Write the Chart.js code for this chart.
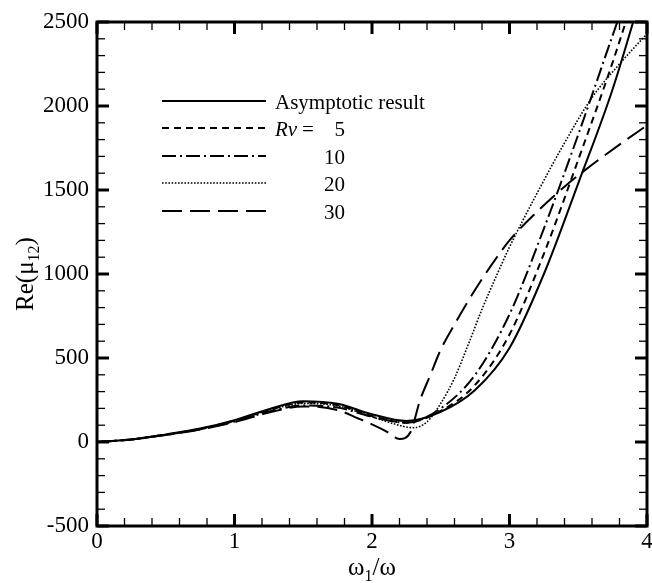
<!DOCTYPE html>
<html lang="en">
<head>
  <meta charset="UTF-8" />
  <title>Re(mu12) vs omega1/omega</title>
  <script src="https://cdn.jsdelivr.net/npm/chart.js"></script>
  <style>
    * { margin: 0; padding: 0; box-sizing: border-box; }
    body { background: #fff; width: 652px; height: 583px; overflow: hidden; }
    #chart { display: block; }
  </style>
</head>
<body>
  <canvas id="chart" width="652" height="583"></canvas>

  <script>
    // x positions (omega1/omega) and Re(mu12) values
    const xAsym = [0, 0.25, 0.5, 0.75, 1.0, 1.25, 1.5, 1.75, 2.0, 2.25, 2.5, 2.75, 3.0, 3.25, 3.5, 3.75, 4.0];
    const yAsym = [0, 15, 45, 80, 130, 195, 243, 228, 165, 125, 180, 310, 560, 1000, 1540, 2100, 2780];

    const xRv5 = [0, 0.25, 0.5, 0.75, 1.0, 1.25, 1.5, 1.75, 2.0, 2.25, 2.5, 2.75, 3.0, 3.25, 3.5, 3.75, 4.0];
    const yRv5 = [0, 15, 44, 78, 127, 190, 235, 220, 155, 115, 185, 340, 640, 1120, 1680, 2260, 2900];

    const xRv10 = [0, 0.25, 0.5, 0.75, 1.0, 1.25, 1.5, 1.75, 2.0, 2.25, 2.5, 2.75, 3.0, 3.25, 3.5, 3.75, 4.0];
    const yRv10 = [0, 15, 43, 76, 122, 180, 218, 205, 150, 115, 200, 400, 760, 1270, 1830, 2420, 3000];

    const xRv20 = [0, 0.25, 0.5, 0.75, 1.0, 1.25, 1.5, 1.75, 2.0, 2.15, 2.3, 2.4, 2.5, 2.6, 2.7, 2.8, 2.9, 3.0, 3.2, 3.4, 3.6, 3.8, 4.0];
    const yRv20 = [0, 15, 44, 78, 125, 188, 230, 215, 150, 110, 85, 120, 230, 380, 580, 790, 980, 1160, 1480, 1780, 2050, 2250, 2430];

    const xRv30 = [0, 0.25, 0.5, 0.75, 1.0, 1.25, 1.5, 1.75, 1.9, 2.0, 2.1, 2.2, 2.28, 2.35, 2.42, 2.5, 2.6, 2.7, 2.8, 2.9, 3.0, 3.2, 3.4, 3.6, 3.8, 4.0];
    const yRv30 = [0, 15, 42, 75, 118, 175, 212, 190, 140, 105, 65, 18, 60, 250, 390, 550, 700, 840, 970, 1090, 1200, 1370, 1520, 1650, 1770, 1885];

    const xTicks = [0, 1, 2, 3, 4];
    const yTicks = [-500, 0, 500, 1000, 1500, 2000, 2500];

    const legendLabels = ['Asymptotic result', '5', '10', '20', '30'];

    const serif = "'Liberation Serif', 'DejaVu Serif', serif";

    function pts(xs, ys) {
      return xs.map((x, i) => ({ x: x, y: ys[i] }));
    }

    const series = [
      { data: pts(xAsym, yAsym), dash: [], width: 2 },
      { data: pts(xRv5, yRv5), dash: [7, 5], width: 2 },
      { data: pts(xRv10, yRv10), dash: [14, 4, 2, 4], width: 2 },
      { data: pts(xRv20, yRv20), dash: [1.6, 1.6], width: 1.6 },
      { data: pts(xRv30, yRv30), dash: [20, 8], width: 2 }
    ];

    // axis frame, inward ticks on all four sides, legend and axis titles
    const decorations = {
      id: 'decorations',
      afterDraw(chart) {
        const ctx = chart.ctx;
        const a = chart.chartArea;
        const xs = chart.scales.x;
        const ys = chart.scales.y;
        ctx.save();
        ctx.strokeStyle = '#000';
        ctx.fillStyle = '#000';

        // ticks
        function tick(x1, y1, x2, y2, w) {
          ctx.lineWidth = w;
          ctx.beginPath();
          ctx.moveTo(x1, y1);
          ctx.lineTo(x2, y2);
          ctx.stroke();
        }
        for (let i = 0; i <= 20; i++) {
          const v = i * 0.2;
          const px = xs.getPixelForValue(v);
          const major = i % 5 === 0;
          const len = major ? 12 : 8;
          const w = major ? 3 : 1.3;
          tick(px, a.bottom, px, a.bottom - len, w);
          tick(px, a.top, px, a.top + len, w);
        }
        for (let i = 0; i <= 30; i++) {
          const v = -500 + i * 100;
          const py = ys.getPixelForValue(v);
          const major = i % 5 === 0;
          const len = major ? 12 : 8;
          const w = major ? 3 : 1.3;
          tick(a.left, py, a.left + len, py, w);
          tick(a.right, py, a.right - len, py, w);
        }

        // frame
        ctx.lineWidth = 3;
        ctx.strokeRect(a.left, a.top, a.right - a.left, a.bottom - a.top);

        // legend
        const rowY = [101, 128, 156, 183, 211];
        chart.data.datasets.forEach((ds, i) => {
          ctx.lineWidth = ds.borderWidth;
          ctx.setLineDash(ds.borderDash || []);
          ctx.beginPath();
          ctx.moveTo(162, rowY[i]);
          ctx.lineTo(266, rowY[i]);
          ctx.stroke();
        });
        ctx.setLineDash([]);
        ctx.font = '21px ' + serif;
        ctx.textBaseline = 'alphabetic';
        ctx.textAlign = 'left';
        ctx.fillText(legendLabels[0], 275, rowY[0] + 8);
        ctx.font = 'italic 21px ' + serif;
        ctx.fillText('Rv', 275, rowY[1] + 8);
        ctx.font = '21px ' + serif;
        ctx.fillText('=', 302, rowY[1] + 8);
        ctx.textAlign = 'right';
        for (let i = 1; i < legendLabels.length; i++) {
          ctx.fillText(legendLabels[i], 345, rowY[i] + 8);
        }

        // x title: omega_1 / omega
        const cx = (a.left + a.right) / 2;
        const big = '25px ' + serif;
        const small = '16px ' + serif;
        ctx.textAlign = 'left';
        ctx.font = big;
        const wOm = ctx.measureText('\u03c9').width;
        const wSl = ctx.measureText('/\u03c9').width;
        ctx.font = small;
        const wOne = ctx.measureText('1').width;
        let x0 = cx - (wOm + wOne + wSl) / 2;
        const base = 575;
        ctx.font = big;
        ctx.fillText('\u03c9', x0, base);
        ctx.font = small;
        ctx.fillText('1', x0 + wOm, base + 6);
        ctx.font = big;
        ctx.fillText('/\u03c9', x0 + wOm + wOne, base);

        // y title: Re(mu_12)
        ctx.translate(33, (a.top + a.bottom) / 2);
        ctx.rotate(-Math.PI / 2);
        ctx.font = big;
        const wA = ctx.measureText('Re(\u03bc').width;
        const wC = ctx.measureText(')').width;
        ctx.font = small;
        const wB = ctx.measureText('12').width;
        x0 = -(wA + wB + wC) / 2;
        ctx.font = big;
        ctx.fillText('Re(\u03bc', x0, 0);
        ctx.font = small;
        ctx.fillText('12', x0 + wA, 6);
        ctx.font = big;
        ctx.fillText(')', x0 + wA + wB, 0);

        ctx.restore();
      }
    };

    const chart = new Chart(document.getElementById('chart'), {
      type: 'scatter',
      data: {
        datasets: series.map((s, i) => ({
          label: legendLabels[i],
          data: s.data,
          showLine: true,
          borderColor: '#000',
          backgroundColor: '#000',
          borderWidth: s.width,
          borderDash: s.dash,
          pointRadius: 0,
          cubicInterpolationMode: 'monotone'
        }))
      },
      options: {
        responsive: false,
        animation: false,
        layout: { padding: { top: 22, right: 5, left: 0, bottom: 0 } },
        plugins: {
          legend: { display: false },
          tooltip: { enabled: false }
        },
        scales: {
          x: {
            type: 'linear',
            min: 0,
            max: 4,
            afterBuildTicks: s => { s.ticks = xTicks.map(v => ({ value: v })); },
            afterFit: s => { s.height = 57; },
            grid: { display: false },
            border: { display: false },
            ticks: {
              color: '#000',
              font: { family: serif, size: 23 },
              padding: -6,
              maxRotation: 0,
              callback: v => String(v)
            }
          },
          y: {
            type: 'linear',
            min: -500,
            max: 2500,
            afterBuildTicks: s => { s.ticks = yTicks.map(v => ({ value: v })); },
            afterFit: s => { s.width = 97; },
            grid: { display: false },
            border: { display: false },
            ticks: {
              color: '#000',
              font: { family: serif, size: 23 },
              padding: 0,
              callback: v => String(v)
            }
          }
        }
      },
      plugins: [decorations]
    });
  </script>
</body>
</html>
